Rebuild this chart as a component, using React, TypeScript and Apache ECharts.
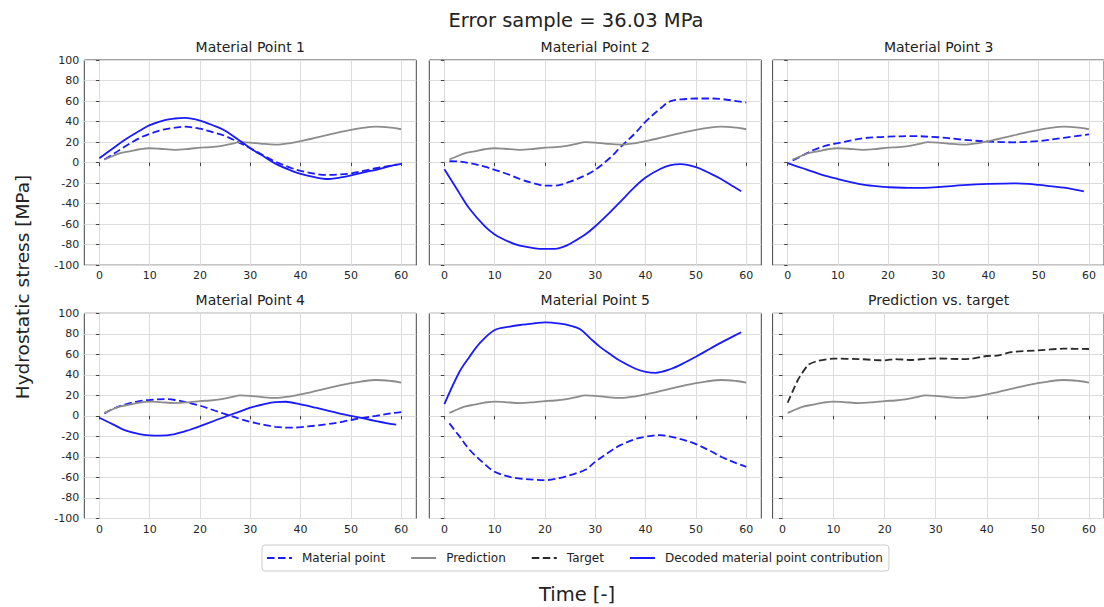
import { useEffect, useRef } from "react";
import * as echarts from "echarts";

// ---- data (time, stress [MPa]) ----
const prediction = [[1,3],[2,5],[4,9],[6,11],[8,13],[10,14],[12,13.5],[15,12.5],[18,13.5],[20,14.5],[22,15],[24,16],[26,18],[28,20],[30,19.5],[32,18.5],[35,17.5],[38,19],[40,21],[42,23],[45,26.5],[48,30],[50,32],[52,33.5],[55,35],[58,34],[60,32.5]];
const target = [[1,12.8],[3,35],[5,49.6],[7,53.8],[10,55.8],[15,55.4],[18,54.5],[20,54.1],[22,55.4],[25,54.5],[28,55.6],[30,56],[35,55.4],[37,55.8],[40,58.4],[42,58.7],[45,62.3],[50,63.9],[55,65.5],[60,65.2]];

const material1 = [[1,3],[3,9],[5,15.5],[8,24],[10,28],[13,32.5],[15,34],[17,35],[20,33],[23,29],[25,26],[28,19],[30,14],[33,6],[35,1],[38,-5],[40,-8],[43,-11],[45,-12],[48,-11.5],[50,-10.5],[53,-7.5],[55,-5.5],[58,-3],[60,-1.3]];
const decoded1 = [[0,4.2],[3,15],[5,22],[8,31],[10,36.5],[13,41.5],[15,43],[17,43.5],[20,41],[23,35.5],[25,31],[28,21],[30,14],[33,5],[35,-1],[38,-7.5],[40,-11],[43,-14.5],[45,-16],[48,-14.5],[50,-12.5],[53,-9],[55,-7],[57,-4.5],[59,-2]];

const material2 = [[1,1.3],[3,1],[5,-0.5],[8,-4],[10,-7],[13,-12],[15,-16],[18,-20.5],[20,-22.5],[22,-22.5],[25,-18.5],[28,-12.5],[30,-7],[33,5],[35,15],[38,29],[40,40],[43,53],[45,60],[48,62],[50,62.5],[53,62.5],[55,62],[58,60],[60,58.5]];
const decoded2 = [[0,-6.5],[2,-22],[3,-30],[5,-45],[8,-62],[10,-70],[13,-77.5],[15,-81],[18,-83.5],[20,-84],[22,-84],[24,-81.5],[25,-79],[28,-70],[30,-62],[33,-48],[35,-38],[38,-23],[40,-14.5],[43,-6],[45,-2.5],[47,-1.5],[50,-4.5],[53,-11],[55,-16],[57,-22],[59,-28]];

const material3 = [[1,2],[3,7],[5,12],[8,17],[10,19],[13,22],[15,23.7],[18,24.8],[20,25.3],[25,25.8],[30,24.7],[35,22.3],[40,20.5],[45,19.8],[50,21],[55,24.2],[60,27.6]];
const decoded3 = [[0,-0.6],[3,-5.5],[5,-8.8],[8,-13.5],[10,-16],[13,-19.5],[15,-21.4],[18,-23.2],[20,-24],[25,-24.7],[30,-23.8],[35,-22],[40,-20.8],[45,-20.2],[48,-20.8],[50,-21.8],[55,-24.4],[59,-28]];

const material4 = [[1,2.4],[3,7.5],[5,11],[8,14.5],[10,15.5],[13,16.4],[15,15.5],[18,12.5],[20,10],[23,5],[25,1.8],[28,-3],[30,-5.7],[33,-9],[35,-10.6],[38,-11.5],[40,-11],[43,-9.5],[45,-8.3],[48,-6],[50,-4],[53,-1.5],[55,0],[58,2.5],[60,3.7]];
const decoded4 = [[0,-1.8],[3,-9],[5,-13.8],[8,-17.8],[10,-19],[12,-19.3],[15,-17.7],[18,-13.5],[20,-10],[23,-4.5],[25,-0.8],[28,4.5],[30,8],[33,11.8],[35,13.5],[37,13.8],[40,11.2],[43,8],[45,5.7],[48,2],[50,0],[53,-3],[55,-5],[57,-7],[59,-8.6]];

const material5 = [[1,-7.3],[3,-20],[5,-33],[8,-47],[10,-54.5],[13,-59.5],[15,-61],[18,-62.2],[20,-62.6],[23,-60.5],[25,-57.7],[28,-52.5],[30,-44.7],[33,-34.5],[35,-28.5],[38,-22.5],[40,-20.3],[43,-18.7],[45,-20.3],[48,-24],[50,-27.5],[53,-34.5],[55,-39.8],[58,-46],[60,-49.6]];
const decoded5 = [[0,11.5],[3,43],[5,57.7],[7,70.7],[10,83.7],[13,87],[15,88.6],[18,90.3],[20,91.2],[23,90],[25,88],[27,84.4],[29,75.5],[31,67],[33,60],[35,53.5],[38,46],[40,43],[42,42],[45,45.7],[48,52.5],[50,57.7],[53,66],[55,71.4],[57,76.5],[59,81.5]];

const materials = [material1, material2, material3, material4, material5];
const decodeds = [decoded1, decoded2, decoded3, decoded4, decoded5];
const panelTitles = ["Material Point 1", "Material Point 2", "Material Point 3", "Material Point 4", "Material Point 5", "Prediction vs. target"];
const xTicks = [0, 10, 20, 30, 40, 50, 60];
const mainTitle = "Error sample = 36.03 MPa";
const yName = "Hydrostatic stress [MPa]";
const xName = "Time [-]";

// ---- layout ----
const FONT = "DejaVu Sans";
const colLefts = [84.3, 429.3, 772.6];
const rowTops = [60, 313.3];
const PW = 332;
const PH = 205.2;
const BLUE = "#1a1aff";
const GRAY = "#8c8c8c";
const BLACK = "#2a2a2a";
const DASH = [7.5, 3.5];

function buildOption() {
  const grid: any[] = [];
  const xAxis: any[] = [];
  const yAxis: any[] = [];
  const series: any[] = [];
  const graphic: any[] = [];
  for (let i = 0; i < 6; i++) {
    const r = Math.floor(i / 3);
    const c = i % 3;
    grid.push({
      left: colLefts[c], top: rowTops[r], width: PW, height: PH,
      show: true, borderColor: "#444", borderWidth: 1, backgroundColor: "transparent",
      containLabel: false,
    });
    xAxis.push({
      type: "value", gridIndex: i,
      min: i === 5 ? -1.95 : -3, max: i === 5 ? 62.95 : 63,
      axisLine: { show: false },
      axisTick: { show: true, customValues: xTicks, length: 3.5, lineStyle: { color: "#444" } },
      axisLabel: { customValues: xTicks, color: "#262626", fontSize: 11, fontFamily: FONT, margin: 5 },
      splitLine: { show: true, lineStyle: { color: "#dcdcdc", width: 1 } },
    });
    yAxis.push({
      type: "value", gridIndex: i, min: -100, max: 100, interval: 20,
      axisLine: { show: false },
      axisTick: { show: true, length: 3.5, lineStyle: { color: "#444" } },
      axisLabel: { show: c === 0, color: "#262626", fontSize: 11, fontFamily: FONT, margin: 5 },
      splitLine: { show: true, lineStyle: { color: "#dcdcdc", width: 1 } },
    });
    graphic.push({
      type: "text", x: colLefts[c] + PW / 2, y: rowTops[r] - 13.5,
      style: { text: panelTitles[i], fontSize: 14, fontFamily: FONT, fill: "#222", align: "center", verticalAlign: "middle" },
    });
    const base = { type: "line", xAxisIndex: i, yAxisIndex: i, showSymbol: false, symbol: "none", smooth: 0.35, silent: true };
    if (i < 5) {
      series.push({ ...base, name: "Material point", data: materials[i], lineStyle: { color: BLUE, width: 1.8, type: DASH }, itemStyle: { color: BLUE } });
      series.push({ ...base, name: "Prediction", data: prediction, lineStyle: { color: GRAY, width: 1.8 }, itemStyle: { color: GRAY } });
      series.push({ ...base, name: "Decoded material point contribution", data: decodeds[i], lineStyle: { color: BLUE, width: 1.8 }, itemStyle: { color: BLUE } });
    } else {
      series.push({ ...base, name: "Prediction", data: prediction, lineStyle: { color: GRAY, width: 1.8 }, itemStyle: { color: GRAY } });
      series.push({ ...base, name: "Target", data: target, smooth: 0.2, lineStyle: { color: BLACK, width: 1.8, type: DASH }, itemStyle: { color: BLACK } });
    }
  }
  graphic.push({
    type: "text", x: 576, y: 20,
    style: { text: mainTitle, fontSize: 19.5, fontFamily: FONT, fill: "#222", align: "center", verticalAlign: "middle" },
  });
  graphic.push({
    type: "text", x: 577, y: 594,
    style: { text: xName, fontSize: 19.5, fontFamily: FONT, fill: "#222", align: "center", verticalAlign: "middle" },
  });
  graphic.push({
    type: "text", x: 22, y: 287, rotation: Math.PI / 2,
    style: { text: yName, fontSize: 18.5, fontFamily: FONT, fill: "#222", align: "center", verticalAlign: "middle" },
  });
  return {
    animation: false,
    backgroundColor: "#fff",
    grid, xAxis, yAxis, series, graphic,
    legend: {
      data: ["Material point", "Prediction", "Target", "Decoded material point contribution"],
      left: 262, top: 545,
      orient: "horizontal",
      itemWidth: 25, itemHeight: 10, itemGap: 25,
      padding: [7, 6, 7, 4],
      borderColor: "#ccc", borderWidth: 1, borderRadius: 3,
      backgroundColor: "#fff",
      itemStyle: { opacity: 0 },
      textStyle: { fontSize: 12, fontFamily: FONT, color: "#222", padding: [0, 0, 0, 5] },
      selectedMode: false,
    },
  };
}

export default function App() {
  const ref = useRef<HTMLDivElement>(null);
  useEffect(() => {
    const chart = echarts.init(ref.current!, null, { renderer: "svg" });
    chart.setOption(buildOption() as any);
    return () => chart.dispose();
  }, []);
  return <div ref={ref} style={{ position: "absolute", left: 0, top: 0, width: 1104, height: 607 }} />;
}
